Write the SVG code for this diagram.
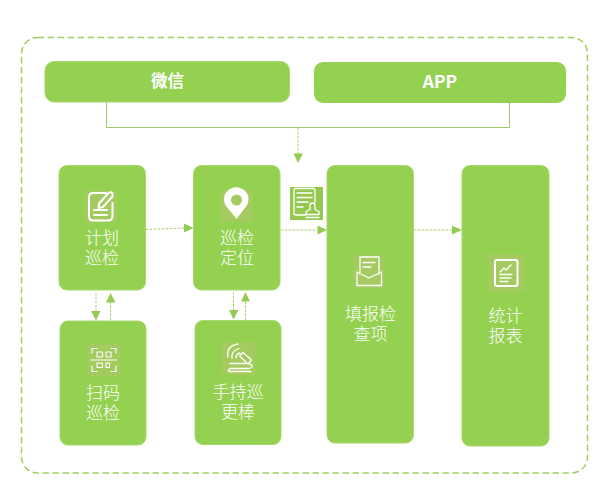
<svg xmlns="http://www.w3.org/2000/svg" width="598" height="495" viewBox="0 0 598 495">
<style>
.n{fill:#95d150;stroke:#a6d86c;stroke-width:1}
.t{font-family:"Liberation Sans","Noto Sans CJK SC",sans-serif;font-size:17px;font-weight:300;fill:#fff;text-anchor:middle}
.b{font-family:"Noto Sans CJK SC","Liberation Sans",sans-serif;font-size:16.5px;font-weight:700;fill:#fff;text-anchor:middle}
.tile{fill:#a4cb60}
.i{fill:none;stroke:#fff;stroke-width:2;stroke-linecap:round;stroke-linejoin:round}
.i2{fill:none;stroke:#fff;stroke-width:1.300;stroke-linecap:round;stroke-linejoin:round}
.i3{fill:none;stroke:#fff;stroke-width:1.100;stroke-linecap:round;stroke-linejoin:round}
.s{fill:none;stroke:#a0c968;stroke-width:1}
.d{fill:none;stroke:#a5cf6a;stroke-width:1;stroke-dasharray:2.500 1.500}
.a{fill:#95cb55}
</style>
<rect x="21.500" y="37.500" width="566" height="435.500" rx="16" fill="none" stroke="#9fcf62" stroke-width="1.500" stroke-dasharray="6.500 3.500"/>
<g id="connectors">
<path class="s" d="M106.500 102V127.500H509.500V103"/>
<path class="d" d="M298 128V154"/><path class="a" d="M293.500 153.500H303L298 163Z"/>
<path class="d" d="M145.500 229.500L185 228"/><path class="a" d="M184 223.500L193.500 228L184 232.500Z"/>
<path class="d" d="M280.500 230H317"/><path class="a" d="M317.500 225.500L327 230L317.500 234.500Z"/>
<path class="d" d="M414 230H452"/><path class="a" d="M452 225.500L462 230L452 234.500Z"/>
<path class="d" d="M96 293V312"/><path class="a" d="M91 311H100.500L96 320.500Z"/>
<path class="d" d="M110.500 320V302"/><path class="a" d="M106 302.500L110.500 293L115.500 302.500Z"/>
<path class="d" d="M233.500 292V311"/><path class="a" d="M229 310H238.500L233.500 319.500Z"/>
<path class="d" d="M245.500 320V301"/><path class="a" d="M241 301.500L245.500 292L250 301.500Z"/>
</g>
<g id="wechat"><rect class="n" x="45" y="61.500" width="244.500" height="40.500" rx="9"/><text class="b" x="167.500" y="87">微信</text></g>
<g id="app"><rect x="314" y="62" width="252" height="41" rx="9" fill="#95d150"/><text class="b" x="440" y="88" style="font-size:17.500px">APP</text></g>
<g id="plan"><rect class="n" x="59" y="165.500" width="86.500" height="124.500" rx="8"/>
<rect class="tile" x="85" y="190" width="32" height="32"/>
<path class="i" d="M106 193H93Q89 193 89 197V216Q89 220.500 93 220.500H108Q112.500 220.500 112.500 216V203M99 203.500L108.500 193Q110.500 191.500 112 193T112.500 196.500L103 207L98.500 208ZM94 210H107M94 215H107"/>
<text class="t" x="102" y="243.500">计划</text><text class="t" x="102" y="263.500">巡检</text></g>
<g id="locate"><rect class="n" x="193.500" y="165.500" width="86.500" height="124.500" rx="8"/>
<rect class="tile" x="220" y="190" width="33" height="32"/>
<path d="M236.500 219L226 206Q224 203 224 199.500A12 12 0 0 1 248.500 199.500Q248.500 203 246.500 206Z" fill="#fff"/><circle cx="236.500" cy="200" r="5.500" fill="#a4cb60"/>
<text class="t" x="237" y="243.500">巡检</text><text class="t" x="237" y="263.500">定位</text></g>
<g id="doc-icon"><rect x="290" y="187" width="33" height="33" fill="#95c84f"/>
<path class="i2" d="M315 202V190.500Q315 188.500 313 188.500H296Q294 188.500 294 190.500V213Q294 215 296 215H306M297 193H312M297 197.500H312M297 202H308M297 207H303M306 217.500H319M306 214.500H319V211.500L315 209.500V205.500A2.500 2.500 0 0 0 310 205.500V209.500L306 211.500Z"/></g>
<g id="fill"><rect class="n" x="327" y="165.500" width="86.500" height="277.500" rx="8"/>
<rect class="tile" x="353" y="255" width="32" height="33"/>
<path class="i2" d="M360 274V257H379V274M357 272V285.500H381.500V272L369 278ZM363 262.500H375M363 267H371"/>
<text class="t" x="370.500" y="320">填报检</text><text class="t" x="370.500" y="340">查项</text></g>
<g id="stats"><rect class="n" x="462" y="165.500" width="87" height="280.500" rx="8"/>
<rect class="tile" x="488" y="254" width="37" height="38"/>
<rect class="i" x="495" y="260" width="22.500" height="26" rx="2"/><path class="i2" d="M500 272L504 268L506 270L511 265M500 274.500H512M500 278H511M500 281.500H508"/>
<text class="t" x="505.500" y="322">统计</text><text class="t" x="505.500" y="342">报表</text></g>
<g id="scan"><rect class="n" x="60" y="321" width="86" height="124" rx="8"/>
<rect class="tile" x="87" y="344" width="33" height="32"/>
<path class="i3" d="M92 353V348.500H97M111 348.500H116V353M92 366V371.500H97M111 371.500H116V366M91 360H116.500M97 352H102.500V357H97ZM106 352H111V357H106ZM97 363H102.500V367.500H97ZM106 363H109.500V367.500H106Z"/>
<text class="t" x="103" y="399">扫码</text><text class="t" x="103" y="419">巡检</text></g>
<g id="handheld"><rect class="n" x="195" y="320.500" width="86" height="124" rx="8"/>
<rect class="tile" x="222" y="342" width="33" height="33"/>
<path class="i2" d="M228 357Q226 346 238 344M232 358Q231 351 239 348.500M236 358Q236 354 240 353M239.500 356L243 352.500L251.500 360L248 364ZM230 363.500H247Q253 364 252 367Q251 368.500 248 368.500H231Q227 369.500 229 371.500H251"/>
<text class="t" x="238" y="398">手持巡</text><text class="t" x="238" y="418">更棒</text></g>
</svg>
